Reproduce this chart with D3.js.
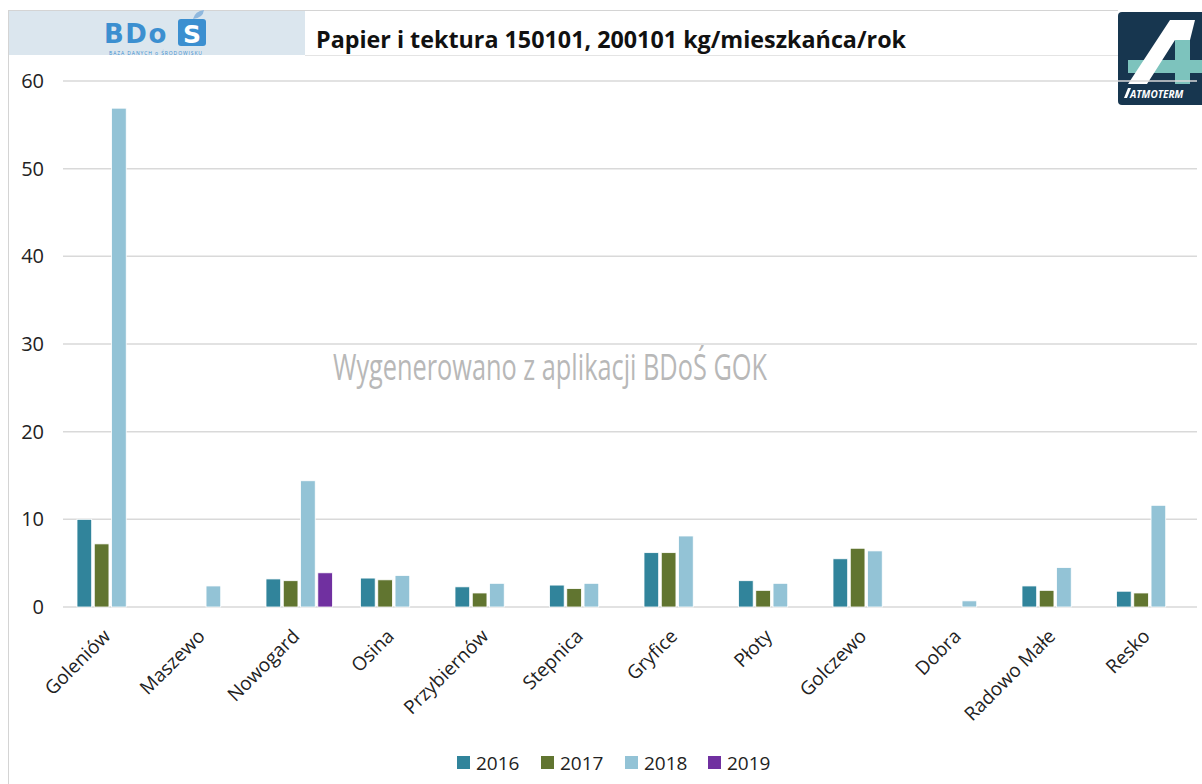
<!DOCTYPE html>
<html>
<head>
<meta charset="utf-8">
<script src="https://cdn.jsdelivr.net/npm/d3@7"></script>
<style>
  body { margin: 0; background: #fff; }
  svg { display: block; font-family: "Open Sans", "Noto Sans", sans-serif; }
</style>
</head>
<body>
<div id="chart"></div>
<script>
// data
var categories = ["Goleniów", "Maszewo", "Nowogard", "Osina", "Przybiernów", "Stepnica",
                  "Gryfice", "Płoty", "Golczewo", "Dobra", "Radowo Małe", "Resko"];
var years = ["2016", "2017", "2018", "2019"];
var v2016 = [10.0, null, 3.2, 3.3, 2.3, 2.5, 6.2, 3.0, 5.5, null, 2.4, 1.8];
var v2017 = [7.2, null, 3.0, 3.1, 1.6, 2.1, 6.2, 1.9, 6.7, null, 1.9, 1.6];
var v2018 = [56.9, 2.4, 14.4, 3.6, 2.7, 2.7, 8.1, 2.7, 6.4, 0.7, 4.5, 11.6];
var v2019 = [null, null, 3.9, null, null, null, null, null, null, null, null, null];
var yTicks = [0, 10, 20, 30, 40, 50, 60];
var colors = ["#31849B", "#617530", "#93C3D6", "#7030A0"];

var W = 1202, H = 784;
var margin = {top: 81, right: 5, bottom: 177, left: 63};

var svg = d3.select("#chart").append("svg")
  .attr("width", W).attr("height", H);

// frame lines
svg.append("line").attr("x1", 8).attr("x2", 1118).attr("y1", 10.5).attr("y2", 10.5)
  .attr("stroke", "#d4d4d4");
svg.append("line").attr("x1", 8.5).attr("x2", 8.5).attr("y1", 10).attr("y2", H)
  .attr("stroke", "#d4d4d4");
svg.append("line").attr("x1", 305).attr("x2", 1118).attr("y1", 55.5).attr("y2", 55.5)
  .attr("stroke", "#e4e4e4");

// BDoS header box
svg.append("rect").attr("x", 9).attr("y", 11).attr("width", 296).attr("height", 44)
  .attr("fill", "#dbe6ee");
svg.append("text").attr("x", 104).attr("y", 43)
  .attr("font-family", "DejaVu Sans, sans-serif").attr("font-weight", "bold")
  .attr("font-size", 26).attr("letter-spacing", 1.5).attr("fill", "#3b8fd0").text("BDo");
svg.append("rect").attr("x", 178).attr("y", 19).attr("width", 28).attr("height", 27)
  .attr("rx", 3).attr("fill", "#3b8fd0");
svg.append("path").attr("d", "M193,19 Q195,11 204,10 Q203,18 193,19 Z").attr("fill", "#8fb8de");
svg.append("text").attr("x", 192).attr("y", 43).attr("text-anchor", "middle")
  .attr("font-family", "DejaVu Sans, sans-serif").attr("font-weight", "bold")
  .attr("font-size", 25).attr("fill", "#fff").text("S");
svg.append("text").attr("x", 156).attr("y", 54.5).attr("text-anchor", "middle")
  .attr("font-size", 5).attr("fill", "#3b8fd0").attr("letter-spacing", 0.9)
  .text("BAZA DANYCH o ŚRODOWISKU");

// ATMOTERM logo
var logo = svg.append("g");
logo.append("rect").attr("x", 1118).attr("y", 12).attr("width", 90).attr("height", 93)
  .attr("rx", 4).attr("fill", "#17364f");
logo.append("rect").attr("x", 1128).attr("y", 60).attr("width", 80).attr("height", 13)
  .attr("fill", "#7dc3bd");
logo.append("rect").attr("x", 1175).attr("y", 40).attr("width", 15).attr("height", 44)
  .attr("fill", "#7dc3bd");
logo.append("path").attr("d", "M1128,84 L1170,20 L1195,20 L1190,40 L1175,40 L1147,84 Z")
  .attr("fill", "#fff");
logo.append("path").attr("d", "M1124,98 L1128,88 L1131,88 L1127,98 Z").attr("fill", "#fff");
logo.append("text").attr("x", 1130).attr("y", 98).attr("font-size", 10).attr("font-weight", "bold")
  .attr("font-style", "italic").attr("fill", "#fff").text("ATMOTERM");

// title
svg.append("text").attr("x", 611).attr("y", 48).attr("text-anchor", "middle")
  .attr("font-size", 23).attr("font-weight", "bold").attr("fill", "#111")
  .attr("textLength", 590).attr("lengthAdjust", "spacingAndGlyphs")
  .text("Papier i tektura 150101, 200101 kg/mieszkańca/rok");

var x0 = d3.scaleBand().domain(categories)
  .range([margin.left, W - margin.right]);
var x1 = d3.scaleBand().domain(years)
  .range([14, x0.bandwidth() - 14]).paddingInner(0.15);
var y = d3.scaleLinear().domain([0, 60]).range([H - margin.bottom, margin.top]);

// gridlines
svg.append("g").selectAll("line").data(yTicks).enter().append("line")
  .attr("x1", margin.left).attr("x2", W - margin.right)
  .attr("y1", function(d) { return y(d); }).attr("y2", function(d) { return y(d); })
  .attr("stroke", "#d9d9d9").attr("stroke-width", 1.5);

// y axis labels
var yAxis = d3.axisLeft(y).tickValues(yTicks).tickSize(0).tickPadding(0);
var ya = svg.append("g").attr("transform", "translate(44,0)").call(yAxis);
ya.select(".domain").remove();
ya.selectAll("text").attr("font-size", 20).attr("fill", "#222")
  .attr("font-family", "Open Sans, sans-serif");

// watermark
svg.append("text").attr("x", 333).attr("y", 380)
  .attr("font-size", 36).attr("fill", "#b8b8b8")
  .attr("textLength", 434).attr("lengthAdjust", "spacingAndGlyphs")
  .text("Wygenerowano z aplikacji BDoŚ GOK");

// bars
var series = [v2016, v2017, v2018, v2019];
var rows = [];
categories.forEach(function(c, i) {
  years.forEach(function(yr, j) {
    if (series[j][i] != null) rows.push({cat: c, year: yr, value: series[j][i], s: j});
  });
});

svg.append("g").selectAll("rect").data(rows).enter().append("rect")
  .attr("x", function(d) { return x0(d.cat) + x1(d.year); })
  .attr("y", function(d) { return y(d.value); })
  .attr("width", x1.bandwidth())
  .attr("height", function(d) { return y(0) - y(d.value); })
  .attr("fill", function(d) { return colors[d.s]; })
  .attr("stroke", "#fff").attr("stroke-width", 0.8);

// x axis labels (rotated)
var xAxis = d3.axisBottom(x0).tickSize(0).tickPadding(0);
var xa = svg.append("g").attr("transform", "translate(0," + (y(0) + 21) + ")").call(xAxis);
xa.select(".domain").remove();
xa.selectAll("text")
  .attr("font-size", 19).attr("fill", "#222")
  .attr("font-family", "Open Sans, sans-serif")
  .style("text-anchor", "end")
  .attr("dy", "0.7em")
  .attr("transform", "translate(-8,0) rotate(-45)");

// legend
var legendX = [457, 541, 625, 708];
var lg = svg.append("g").selectAll("g").data(years).enter().append("g")
  .attr("transform", function(d, i) { return "translate(" + legendX[i] + ",756)"; });
lg.append("rect").attr("width", 13).attr("height", 13)
  .attr("fill", function(d, i) { return colors[i]; });
lg.append("text").attr("x", 19).attr("y", 14).attr("font-size", 19).attr("fill", "#222")
  .text(function(d) { return d; });
</script>
</body>
</html>
